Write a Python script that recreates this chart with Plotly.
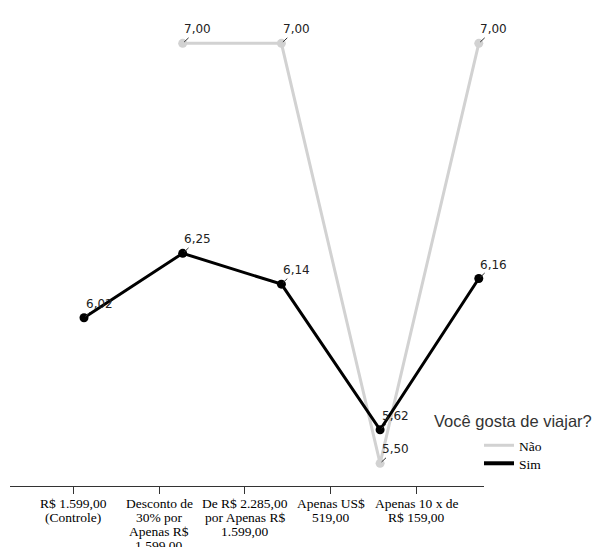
import plotly.graph_objects as go

# Categories (price framing conditions), one list entry per text line
categories = [
    ["R$ 1.599,00", "(Controle)"],
    ["Desconto de", "30% por", "Apenas R$", "1.599,00"],
    ["De R$ 2.285,00", "por Apenas R$", "1.599,00"],
    ["Apenas US$", "519,00"],
    ["Apenas 10 x de", "R$ 159,00"],
]
x_idx = [0, 1, 2, 3, 4]

# Mean values per group
nao_values = [None, 7.00, 7.00, 5.50, 7.00]
sim_values = [6.02, 6.25, 6.14, 5.62, 6.16]

nao_color = "#d2d2d2"
sim_color = "#000000"

W, H = 599, 547
ml, mr, mt, mb = 0, 0, 0, 61
pw, ph = W - ml - mr, H - mt - mb


def px_x(p):
    return (p - ml) / pw


def px_y(p):
    return 1 - (p - mt) / ph


def fmt(v):
    return f"{v:.2f}".replace(".", ",")


fig = go.Figure()
# Category axis carrier (first, so the data subplot sits above it)
fig.add_trace(go.Scatter(
    x=[None], y=[None], xaxis="x2", yaxis="y", showlegend=False, hoverinfo="skip",
))
fig.add_trace(go.Scatter(
    x=x_idx, y=nao_values, name="Não", mode="lines+markers",
    line=dict(color=nao_color, width=3), marker=dict(color=nao_color, size=9),
    showlegend=False,
))
fig.add_trace(go.Scatter(
    x=x_idx, y=sim_values, name="Sim", mode="lines+markers",
    line=dict(color=sim_color, width=3), marker=dict(color=sim_color, size=9),
    showlegend=False,
))
# Legend keys (line samples only), one legend box per entry
fig.add_trace(go.Scatter(
    x=[None], y=[None], name="Não", mode="lines", legend="legend",
    line=dict(color=nao_color, width=3), hoverinfo="skip",
))
fig.add_trace(go.Scatter(
    x=[None], y=[None], name="Sim", mode="lines", legend="legend2",
    line=dict(color=sim_color, width=4), hoverinfo="skip",
))

annotations = []
# Value labels with short leader lines
for series in (nao_values, sim_values):
    for xi, v in zip(x_idx, series):
        if v is None:
            continue
        annotations.append(dict(
            x=xi, y=v, xref="x", yref="y", text=fmt(v),
            showarrow=True, arrowhead=0, arrowwidth=1, arrowcolor="#333333",
            ax=15, ay=-14, standoff=2,
            font=dict(family="DejaVu Sans", size=12, color="#222222"),
        ))

# Category labels under the ticks, tight line spacing
for xi, lines in zip(x_idx, categories):
    for k, line in enumerate(lines):
        annotations.append(dict(
            x=xi, y=0, xref="x2", yref="paper", text=line,
            showarrow=False, xanchor="center", yanchor="middle",
            yshift=-(17 + 14 * k),
            font=dict(family="Liberation Serif", size=13.5, color="#000000"),
        ))

# Legend heading
annotations.append(dict(
    x=px_x(432), y=px_y(421), xref="paper", yref="paper",
    text="Você gosta de viajar?", showarrow=False,
    xanchor="left", yanchor="middle",
    font=dict(family="Liberation Sans", size=16.5, color="#333333"),
))

legend_style = dict(
    xanchor="left", yanchor="top",
    font=dict(family="Liberation Serif", size=13.5, color="#000000"),
    bgcolor="rgba(0,0,0,0)", tracegroupgap=0, itemwidth=30,
)

fig.update_layout(
    width=W, height=H,
    margin=dict(l=ml, r=mr, t=mt, b=mb, pad=0),
    paper_bgcolor="white", plot_bgcolor="rgba(0,0,0,0)",
    showlegend=True,
    legend=dict(x=px_x(479), y=px_y(430), **legend_style),
    legend2=dict(x=px_x(479), y=px_y(448), **legend_style),
    annotations=annotations,
    xaxis=dict(
        range=[-84 / 98.7, (599 - 84) / 98.7], visible=False,
        showgrid=False, zeroline=False,
    ),
    xaxis2=dict(
        domain=[px_x(10), px_x(484)], anchor="y",
        range=[-0.733, 4.78], showgrid=False, zeroline=False,
        showline=True, linecolor="#333333", linewidth=1,
        tickmode="array", tickvals=x_idx, showticklabels=False,
        ticks="outside", ticklen=7, tickcolor="#333333", tickwidth=1,
        automargin=False,
    ),
    yaxis=dict(
        range=[5.419, 7.1548], visible=False, showgrid=False, zeroline=False,
    ),
)

fig.write_html("out.html")
